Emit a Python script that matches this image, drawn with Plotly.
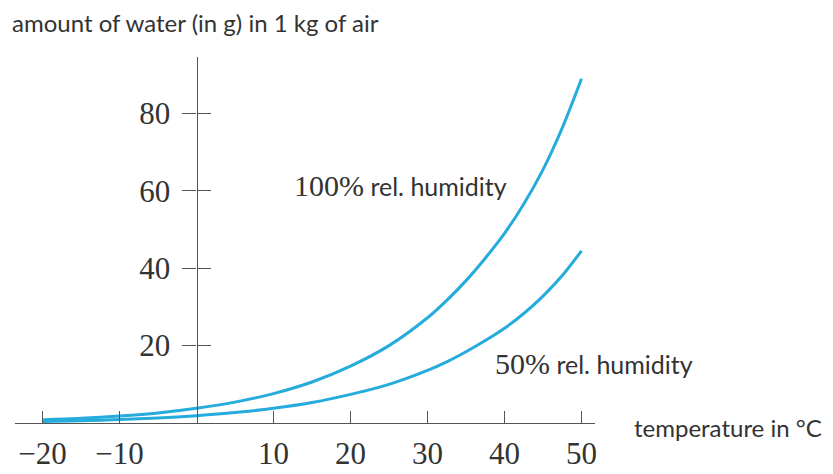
import plotly.graph_objects as go

temperature = [-20, -15, -10, -5, 0, 5, 10, 15, 20, 25, 30, 32.5, 35, 37.5, 40, 42.5, 45, 47.5, 50]
water_100 = [0.8, 1.2, 1.8, 2.6, 3.8, 5.4, 7.6, 10.6, 14.7, 20.0, 27.2, 31.7, 36.8, 42.6, 49.0, 56.6, 65.5, 76.3, 89.0]
water_50 = [0.4, 0.6, 0.9, 1.3, 1.9, 2.7, 3.8, 5.3, 7.4, 10.0, 13.6, 15.8, 18.4, 21.3, 24.5, 28.3, 32.8, 38.1, 44.5]
x_ticks = [-20, -10, 10, 20, 30, 40, 50]
y_ticks = [20, 40, 60, 80]

LINE = "#25ABDC"
AXIS = "#555555"
TXT = "#333333"
SERIF = "Liberation Serif"
SANS = "Lato"

X_RANGE = [-23.57, 51.75]
Y_RANGE = [0, 94.6]
Y_POS = (0 - X_RANGE[0]) / (X_RANGE[1] - X_RANGE[0])

fig = go.Figure()
fig.add_trace(go.Scatter(x=temperature, y=water_100, mode="lines", line=dict(color=LINE, width=3, shape="spline", smoothing=0.8), showlegend=False, hoverinfo="skip"))
fig.add_trace(go.Scatter(x=temperature, y=water_50, mode="lines", line=dict(color=LINE, width=3, shape="spline", smoothing=0.8), showlegend=False, hoverinfo="skip"))
# invisible trace on y2 to activate the second axis (inner half of the y tick crosses)
fig.add_trace(go.Scatter(x=[0], y=[0], yaxis="y2", mode="markers", marker=dict(opacity=0), showlegend=False, hoverinfo="skip"))

# the page body has an 8px default margin, so the figure is 8px smaller than the window
fig.update_layout(
    width=825, height=466,
    margin=dict(l=7, r=238, t=49, b=51, autoexpand=False),
    paper_bgcolor="white", plot_bgcolor="white",
    xaxis=dict(range=X_RANGE, showgrid=False, zeroline=False, showline=True, linecolor=AXIS, linewidth=1.2,
               ticks="inside", ticklen=12, tickwidth=1.2, tickcolor=AXIS, tickvals=x_ticks, automargin=False,
               tickfont=dict(family=SERIF, size=31, color=TXT), ticklabelstandoff=3),
    yaxis=dict(range=Y_RANGE, showgrid=False, zeroline=False, showline=True, linecolor=AXIS, linewidth=1.2,
               anchor="free", position=Y_POS, ticks="outside", ticklen=14, tickwidth=1.2, tickcolor=AXIS,
               automargin=False, tickvals=y_ticks, tickfont=dict(family=SERIF, size=31, color=TXT),
               ticklabelstandoff=6),
    yaxis2=dict(range=Y_RANGE, overlaying="y", anchor="free", position=Y_POS, side="left", showgrid=False,
                zeroline=False, showline=False, ticks="inside", ticklen=13, tickwidth=1.2, tickcolor=AXIS,
                automargin=False, tickvals=y_ticks, showticklabels=False),
    annotations=[
        dict(text="amount of water (in g) in 1 kg of air", xref="paper", yref="paper", x=-0.0086, y=1.0956,
             xanchor="left", yanchor="middle", showarrow=False, font=dict(family=SANS, size=24, color=TXT)),
        dict(text="temperature in °C", xref="paper", yref="paper", x=1.064, y=-0.011,
             xanchor="left", yanchor="middle", showarrow=False, font=dict(family=SANS, size=24, color=TXT)),
        dict(text=f"<span style='font-family:{SERIF}; font-size:30px'>100%</span> rel. humidity", x=12.4, y=61.4,
             xanchor="left", yanchor="middle", showarrow=False, font=dict(family=SANS, size=25, color=TXT)),
        dict(text=f"<span style='font-family:{SERIF}; font-size:30px'>50%</span> rel. humidity", x=38.5, y=15.4,
             xanchor="left", yanchor="middle", showarrow=False, font=dict(family=SANS, size=25, color=TXT)),
    ],
)

fig.write_html("out.html", config={"displayModeBar": False})
